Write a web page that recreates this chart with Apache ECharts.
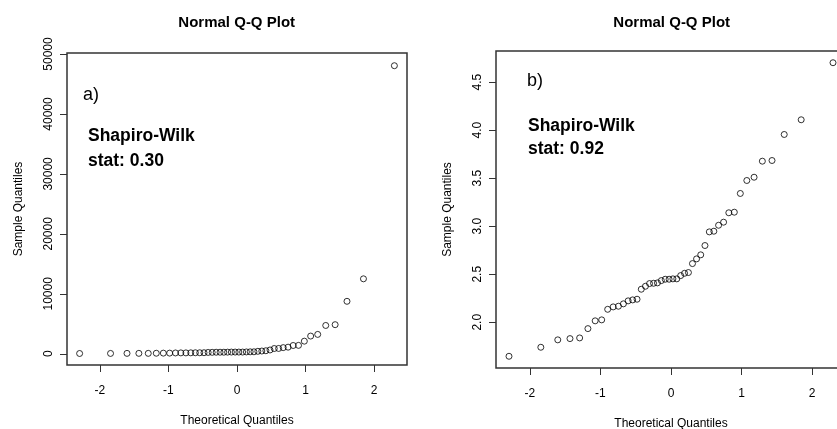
<!DOCTYPE html>
<html>
<head>
<meta charset="utf-8">
<title>Normal Q-Q Plot</title>
<script src="https://cdn.jsdelivr.net/npm/echarts@6/dist/echarts.min.js"></script>
<style>
  html, body { margin: 0; padding: 0; background: #fff; }
  #chart { width: 837px; height: 429px; }
</style>
</head>
<body>
<div id="chart"></div>
<script>
// theoretical quantiles (same 46 positions in both panels)
var theoQuantiles = [
  -2.295, -1.844, -1.604, -1.431, -1.294, -1.177, -1.074, -0.982, -0.897, -0.819,
  -0.745, -0.674, -0.607, -0.543, -0.481, -0.421, -0.362, -0.304, -0.247, -0.192,
  -0.137, -0.082, -0.027, 0.027, 0.082, 0.137, 0.192, 0.247, 0.304, 0.362,
  0.421, 0.481, 0.543, 0.607, 0.674, 0.745, 0.819, 0.897, 0.982, 1.074,
  1.177, 1.294, 1.431, 1.604, 1.844, 2.295
]

// a) raw sample quantiles
var sampleA = [
  45, 55, 65, 68, 69, 86, 104, 106, 136, 145,
  147, 156, 167, 171, 174, 221, 237, 253, 257, 255,
  272, 281, 281, 283, 283, 306, 324, 330, 408, 457,
  504, 630, 873, 887, 1023, 1100, 1380, 1400, 2100, 2950,
  3230, 4720, 4850, 8750, 12500, 48050
]

// b) sample quantiles after transform
var sampleB = [
  1.646, 1.740, 1.817, 1.830, 1.837, 1.934, 2.015, 2.025, 2.135, 2.160,
  2.167, 2.192, 2.223, 2.233, 2.240, 2.344, 2.375, 2.403, 2.406, 2.410,
  2.434, 2.448, 2.448, 2.452, 2.452, 2.486, 2.510, 2.518, 2.611, 2.660,
  2.702, 2.799, 2.941, 2.948, 3.010, 3.042, 3.140, 3.146, 3.341, 3.476,
  3.510, 3.677, 3.684, 3.955, 4.108, 4.702
]

var xTicks = [-2, -1, 0, 1, 2]
var yTicksA = [0, 10000, 20000, 30000, 40000, 50000]
var yTicksB = [2.0, 2.5, 3.0, 3.5, 4.0, 4.5]

var panelTitle = 'Normal Q-Q Plot'
var xName = 'Theoretical Quantiles'
var yName = 'Sample Quantiles'

var FONT = '"Liberation Sans", Arial, sans-serif'
var boxColor = '#333'

function toPairs(xs, ys) {
  return xs.map(function(x, i) { return [x, ys[i]] })
}

function makeX(gridIndex) {
  return {
    type: 'value',
    gridIndex: gridIndex,
    position: 'bottom',
    min: -2.479,
    max: 2.479,
    name: xName,
    nameLocation: 'middle',
    nameGap: 50,
    nameTextStyle: { fontFamily: FONT, fontSize: 12, color: '#000' },
    splitLine: { show: false },
    axisLine: { show: false, onZero: false },
    axisTick: { show: true, length: 7, customValues: xTicks, lineStyle: { color: boxColor } },
    axisLabel: {
      customValues: xTicks,
      margin: 20,
      fontFamily: FONT,
      fontSize: 12,
      color: '#000'
    }
  }
}

function makeY(gridIndex, min, max, ticks, fmt) {
  return {
    type: 'value',
    gridIndex: gridIndex,
    position: 'left',
    min: min,
    max: max,
    name: yName,
    nameLocation: 'middle',
    nameGap: 42,
    nameTextStyle: { fontFamily: FONT, fontSize: 12, color: '#000' },
    splitLine: { show: false },
    axisLine: { show: false, onZero: false },
    axisTick: { show: true, length: 7, customValues: ticks, lineStyle: { color: boxColor } },
    axisLabel: {
      customValues: ticks,
      rotate: 90,
      margin: 12,
      fontFamily: FONT,
      fontSize: 12,
      color: '#000',
      formatter: fmt
    }
  }
}

function textEl(x, y, text, size, bold, align) {
  return {
    type: 'text',
    x: x,
    y: y,
    style: {
      text: text,
      font: (bold ? 'bold ' : '') + size + 'px ' + FONT,
      fill: '#000',
      align: align || 'left',
      verticalAlign: 'middle'
    }
  }
}

var chart = echarts.init(document.getElementById('chart'), null, { renderer: 'canvas' })

chart.setOption({
  animation: false,
  backgroundColor: '#fff',
  grid: [
    { left: 67, top: 53, width: 340, height: 312, outerBoundsMode: 'none', show: true, borderColor: boxColor, borderWidth: 1.5 },
    { left: 496, top: 51, width: 350, height: 317, outerBoundsMode: 'none', show: true, borderColor: boxColor, borderWidth: 1.5 }
  ],
  xAxis: [makeX(0), makeX(1)],
  yAxis: [
    makeY(0, -1875, 50170, yTicksA, function(v) { return String(v) }),
    makeY(1, 1.524, 4.824, yTicksB, function(v) { return v.toFixed(1) })
  ],
  graphic: [
    textEl(236.7, 22.8, panelTitle, 15, true, 'center'),
    textEl(671.7, 22.8, panelTitle, 15, true, 'center'),
    textEl(83, 95, 'a)', 18, false),
    textEl(88, 135.8, 'Shapiro-Wilk', 17.5, true),
    textEl(88, 160.8, 'stat: 0.30', 17.5, true),
    textEl(527, 81, 'b)', 18, false),
    textEl(528, 126.5, 'Shapiro-Wilk', 17.5, true),
    textEl(528, 149.3, 'stat: 0.92', 17.5, true)
  ],
  series: [
    {
      type: 'scatter',
      xAxisIndex: 0,
      yAxisIndex: 0,
      symbol: 'circle',
      symbolSize: 6,
      itemStyle: { color: 'transparent', borderColor: '#000', borderWidth: 1 },
      data: toPairs(theoQuantiles, sampleA)
    },
    {
      type: 'scatter',
      xAxisIndex: 1,
      yAxisIndex: 1,
      symbol: 'circle',
      symbolSize: 6,
      itemStyle: { color: 'transparent', borderColor: '#000', borderWidth: 1 },
      data: toPairs(theoQuantiles, sampleB)
    }
  ]
})
</script>
</body>
</html>
